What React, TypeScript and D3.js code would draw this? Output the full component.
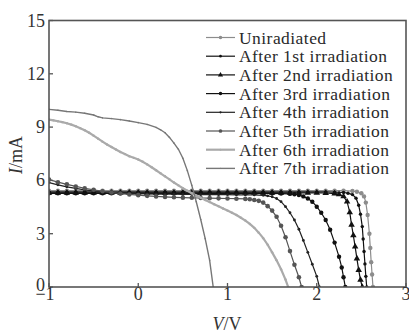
import React from "react";
import * as d3 from "d3";

const W = 409;
const H = 331;

const xTicks = [-1, 0, 1, 2, 3];
const yTicks = [0, 3, 6, 9, 12, 15];
const xTickLabels = ["\u22121", "0", "1", "2", "3"];

const legendLabels = [
  "Uniradiated",
  "After 1st irradiation",
  "After 2nd irradiation",
  "After 3rd irradiation",
  "After 4th irradiation",
  "After 5th irradiation",
  "After 6th irradiation",
  "After 7th irradiation",
];

const uniradiated: [number, number][] = [
  [-1, 5.42], [-0.9, 5.42], [-0.8, 5.42], [-0.7, 5.42], [-0.6, 5.42], [-0.5, 5.42], [-0.4, 5.42], [-0.3, 5.42],
  [-0.2, 5.42], [-0.1, 5.42], [0, 5.42], [0.1, 5.42], [0.2, 5.42], [0.3, 5.42], [0.4, 5.42], [0.5, 5.42],
  [0.6, 5.42], [0.7, 5.42], [0.8, 5.42], [0.9, 5.42], [1.0, 5.42], [1.1, 5.42], [1.2, 5.42], [1.3, 5.42],
  [1.4, 5.42], [1.5, 5.42], [1.6, 5.42], [1.7, 5.42], [1.8, 5.42], [1.9, 5.42], [2.0, 5.42], [2.1, 5.42],
  [2.2, 5.42], [2.3, 5.42], [2.4, 5.4], [2.45, 5.36], [2.5, 5.28], [2.53, 5.1], [2.55, 4.75], [2.57, 4.05],
  [2.59, 3.0], [2.6, 2.2], [2.61, 1.4], [2.62, 0.7], [2.63, 0],
];

const after1: [number, number][] = [
  [-1, 5.35], [-0.9, 5.35], [-0.8, 5.35], [-0.7, 5.35], [-0.6, 5.35], [-0.5, 5.35], [-0.4, 5.35], [-0.3, 5.35],
  [-0.2, 5.35], [-0.1, 5.35], [0, 5.35], [0.1, 5.35], [0.2, 5.35], [0.3, 5.35], [0.4, 5.35], [0.5, 5.35],
  [0.6, 5.35], [0.7, 5.35], [0.8, 5.35], [0.9, 5.35], [1.0, 5.35], [1.1, 5.35], [1.2, 5.35], [1.3, 5.35],
  [1.4, 5.35], [1.5, 5.35], [1.6, 5.35], [1.7, 5.35], [1.8, 5.35], [1.9, 5.35], [2.0, 5.35], [2.1, 5.35],
  [2.2, 5.34], [2.3, 5.32], [2.35, 5.28], [2.4, 5.2], [2.44, 5.0], [2.47, 4.6], [2.49, 4.1], [2.51, 3.4],
  [2.52, 2.7], [2.53, 2.0], [2.54, 1.3], [2.55, 0.6], [2.56, 0],
];

const after2: [number, number][] = [
  [-1, 5.3], [-0.9, 5.3], [-0.8, 5.3], [-0.7, 5.3], [-0.6, 5.3], [-0.5, 5.3], [-0.4, 5.3], [-0.3, 5.3],
  [-0.2, 5.3], [-0.1, 5.3], [0, 5.3], [0.1, 5.3], [0.2, 5.3], [0.3, 5.3], [0.4, 5.3], [0.5, 5.3],
  [0.6, 5.3], [0.7, 5.3], [0.8, 5.3], [0.9, 5.3], [1.0, 5.3], [1.1, 5.3], [1.2, 5.3], [1.3, 5.3],
  [1.4, 5.3], [1.5, 5.3], [1.6, 5.3], [1.7, 5.3], [1.8, 5.3], [1.9, 5.3], [2.0, 5.3], [2.1, 5.29],
  [2.2, 5.26], [2.25, 5.22], [2.3, 5.1], [2.34, 4.8], [2.37, 4.2], [2.39, 3.5], [2.41, 2.9], [2.43, 2.27],
  [2.45, 1.6], [2.47, 0.95], [2.49, 0.4], [2.51, 0],
];

const after3: [number, number][] = [
  [-1, 5.27], [-0.9, 5.27], [-0.8, 5.27], [-0.7, 5.27], [-0.6, 5.27], [-0.5, 5.27], [-0.4, 5.27], [-0.3, 5.27],
  [-0.2, 5.27], [-0.1, 5.27], [0, 5.27], [0.1, 5.27], [0.2, 5.27], [0.3, 5.27], [0.4, 5.27], [0.5, 5.27],
  [0.6, 5.27], [0.7, 5.27], [0.8, 5.27], [0.9, 5.27], [1.0, 5.27], [1.1, 5.27], [1.2, 5.27], [1.3, 5.27],
  [1.4, 5.27], [1.5, 5.27], [1.6, 5.26], [1.7, 5.24], [1.75, 5.22], [1.8, 5.18], [1.85, 5.1], [1.9, 4.98],
  [1.95, 4.8], [2.0, 4.52], [2.05, 4.18], [2.1, 3.77], [2.15, 3.22], [2.2, 2.5], [2.25, 1.7], [2.28, 1.1],
  [2.3, 0.55], [2.32, 0],
];

const after4: [number, number][] = [
  [-1, 5.88], [-0.9, 5.75], [-0.8, 5.64], [-0.7, 5.55], [-0.6, 5.47], [-0.5, 5.41], [-0.4, 5.36], [-0.3, 5.32],
  [-0.2, 5.29], [-0.1, 5.27], [0, 5.25], [0.1, 5.24], [0.2, 5.23], [0.3, 5.22], [0.4, 5.22], [0.5, 5.21],
  [0.6, 5.21], [0.7, 5.2], [0.8, 5.2], [0.9, 5.2], [1.0, 5.2], [1.1, 5.19], [1.2, 5.19], [1.3, 5.18],
  [1.4, 5.16], [1.45, 5.13], [1.5, 5.08], [1.55, 4.98], [1.6, 4.8], [1.65, 4.52], [1.7, 4.18], [1.75, 3.77],
  [1.8, 3.25], [1.85, 2.62], [1.9, 1.95], [1.95, 1.28], [2.0, 0.6], [2.03, 0],
];

const after5: [number, number][] = [
  [-1, 6.05], [-0.9, 5.9], [-0.8, 5.78], [-0.7, 5.66], [-0.6, 5.56], [-0.5, 5.47], [-0.4, 5.39], [-0.3, 5.32],
  [-0.2, 5.26], [-0.1, 5.21], [0, 5.17], [0.1, 5.13], [0.2, 5.1], [0.3, 5.07], [0.4, 5.05], [0.5, 5.03],
  [0.6, 5.02], [0.7, 5.01], [0.8, 5.0], [0.9, 4.99], [1.0, 4.98], [1.1, 4.97], [1.2, 4.96], [1.25, 4.94],
  [1.3, 4.9], [1.35, 4.85], [1.4, 4.75], [1.45, 4.55], [1.5, 4.3], [1.55, 3.95], [1.6, 3.45], [1.65, 2.8],
  [1.7, 2.02], [1.75, 1.25], [1.8, 0.55], [1.83, 0],
];

const after6: [number, number][] = [
  [-1, 9.42], [-0.95, 9.38], [-0.9, 9.33], [-0.85, 9.28], [-0.8, 9.22], [-0.75, 9.14], [-0.7, 9.05], [-0.65, 8.94],
  [-0.6, 8.82], [-0.55, 8.68], [-0.5, 8.52], [-0.45, 8.35], [-0.4, 8.18], [-0.35, 8.02], [-0.3, 7.88], [-0.25, 7.74],
  [-0.2, 7.6], [-0.15, 7.48], [-0.1, 7.36], [-0.05, 7.27], [0, 7.18], [0.05, 7.05], [0.1, 6.9], [0.15, 6.74],
  [0.2, 6.57], [0.25, 6.4], [0.3, 6.23], [0.35, 6.06], [0.4, 5.88], [0.45, 5.72], [0.5, 5.56], [0.55, 5.42],
  [0.6, 5.28], [0.65, 5.15], [0.7, 5.02], [0.75, 4.9], [0.8, 4.78], [0.85, 4.66], [0.9, 4.54], [0.95, 4.42],
  [1.0, 4.3], [1.05, 4.18], [1.1, 4.05], [1.15, 3.9], [1.2, 3.74], [1.25, 3.55], [1.3, 3.33], [1.35, 3.06],
  [1.4, 2.75], [1.45, 2.38], [1.5, 1.95], [1.55, 1.5], [1.6, 1.0], [1.65, 0.42], [1.68, 0],
];

const after7: [number, number][] = [
  [-1, 10.0], [-0.9, 9.95], [-0.8, 9.88], [-0.7, 9.84], [-0.6, 9.78], [-0.5, 9.68], [-0.45, 9.58], [-0.4, 9.52],
  [-0.3, 9.48], [-0.2, 9.42], [-0.1, 9.34], [0, 9.25], [0.1, 9.15], [0.2, 8.98], [0.25, 8.85], [0.3, 8.68],
  [0.35, 8.42], [0.4, 8.1], [0.45, 7.75], [0.5, 7.25], [0.55, 6.55], [0.6, 5.72], [0.65, 4.8], [0.7, 3.8],
  [0.75, 2.72], [0.8, 1.5], [0.84, 0],
];

type Marker = "circle" | "triangle" | "dot" | "none";
const seriesData = [uniradiated, after1, after2, after3, after4, after5, after6, after7];
const seriesColor = ["#8c8c8c", "#111", "#111", "#111", "#222", "#555", "#aaaaaa", "#777"];
const seriesMarker: Marker[] = ["circle", "dot", "triangle", "circle", "dot", "circle", "dot", "dot"];
const seriesMarkerSize = [2.2, 1.7, 2.3, 2.2, 1.4, 2.3, 1.2, 0.8];
const seriesLineWidth = [1.2, 1.2, 1.2, 1.2, 1.2, 1.2, 2.2, 1.4];

const L = 49, R = 406, T = 20.5, B = 287;
const x = d3.scaleLinear().domain([-1, 3]).range([L, R]);
const y = d3.scaleLinear().domain([0, 15]).range([B, T]);

const FONT = "Liberation Serif, DejaVu Serif, serif";
const textStyle = { fontFamily: FONT };

function MarkerShape({ kind, cx, cy, r, color }: { kind: Marker; cx: number; cy: number; r: number; color: string }) {
  if (kind === "none") return null;
  if (kind === "triangle") {
    const p = d3.symbol(d3.symbolTriangle, Math.PI * r * r * 1.1)();
    return <path d={p || ""} transform={`translate(${cx},${cy})`} fill={color} />;
  }
  return <circle cx={cx} cy={cy} r={r} fill={color} />;
}

export default function App() {
  const line = d3
    .line<[number, number]>()
    .x((d) => x(d[0]))
    .y((d) => y(d[1]));

  const legendX0 = 206;
  const legendX1 = 235;
  const legendTextX = 239;
  const legendY0 = 37.5;
  const legendDy = 18.7;

  return (
    <svg
      width={W}
      height={H}
      style={{ position: "absolute", left: 0, top: 0, background: "#fff", fontFamily: FONT }}
    >
      <defs>
        <clipPath id="plot">
          <rect x={L} y={T} width={R - L} height={B - T} />
        </clipPath>
      </defs>
      <rect x={0} y={0} width={W} height={H} fill="#fff" />

      {/* curves */}
      <g clipPath="url(#plot)">
        {seriesData.map((data, i) => (
          <g key={i}>
            <path d={line(data) || ""} fill="none" stroke={seriesColor[i]} strokeWidth={seriesLineWidth[i]} />
            {data.map((d, j) => (
              <MarkerShape
                key={j}
                kind={seriesMarker[i]}
                cx={x(d[0])}
                cy={y(d[1])}
                r={seriesMarkerSize[i]}
                color={seriesColor[i]}
              />
            ))}
          </g>
        ))}
      </g>

      {/* frame */}
      <rect x={L} y={T} width={R - L} height={B - T} fill="none" stroke="#555" strokeWidth={1.6} />

      {/* ticks */}
      {xTicks.map((t) => (
        <line key={"xt" + t} x1={x(t)} x2={x(t)} y1={B} y2={B - 4} stroke="#555" strokeWidth={1.3} />
      ))}
      {yTicks.map((t) => (
        <line key={"yt" + t} x1={L} x2={L + 4} y1={y(t)} y2={y(t)} stroke="#555" strokeWidth={1.3} />
      ))}

      {/* tick labels */}
      {xTicks.map((t, i) => (
        <text
          key={"xl" + t}
          x={i === 0 ? x(t) - 4 : x(t)}
          y={300}
          fontSize={18}
          textAnchor="middle"
          fill="#333"
          style={textStyle}
        >
          {xTickLabels[i]}
        </text>
      ))}
      {yTicks.map((t) => (
        <text
          key={"yl" + t}
          x={45}
          y={t === 0 ? y(t) + 4 : y(t) + 6}
          fontSize={18}
          textAnchor="end"
          fill="#333"
          style={textStyle}
        >
          {t}
        </text>
      ))}

      {/* axis titles */}
      <text x={227} y={330} fontSize={18} textAnchor="middle" fill="#333" style={textStyle}>
        <tspan fontStyle="italic">V</tspan>/V
      </text>
      <text transform="translate(22,155) rotate(-90)" fontSize={18} textAnchor="middle" fill="#333" style={textStyle}>
        <tspan fontStyle="italic">I</tspan>/mA
      </text>

      {/* legend */}
      {legendLabels.map((lab, i) => {
        const cy = legendY0 + i * legendDy;
        return (
          <g key={"lg" + i}>
            <line x1={legendX0} x2={legendX1} y1={cy} y2={cy} stroke={seriesColor[i]} strokeWidth={seriesLineWidth[i]} />
            <MarkerShape
              kind={seriesMarker[i]}
              cx={(legendX0 + legendX1) / 2}
              cy={cy}
              r={seriesMarkerSize[i] * 0.8}
              color={seriesColor[i]}
            />
            <text x={legendTextX} y={cy + 6} fontSize={17.5} letterSpacing={0.45} fill="#2a2a2a" style={textStyle}>
              {lab}
            </text>
          </g>
        );
      })}
    </svg>
  );
}
